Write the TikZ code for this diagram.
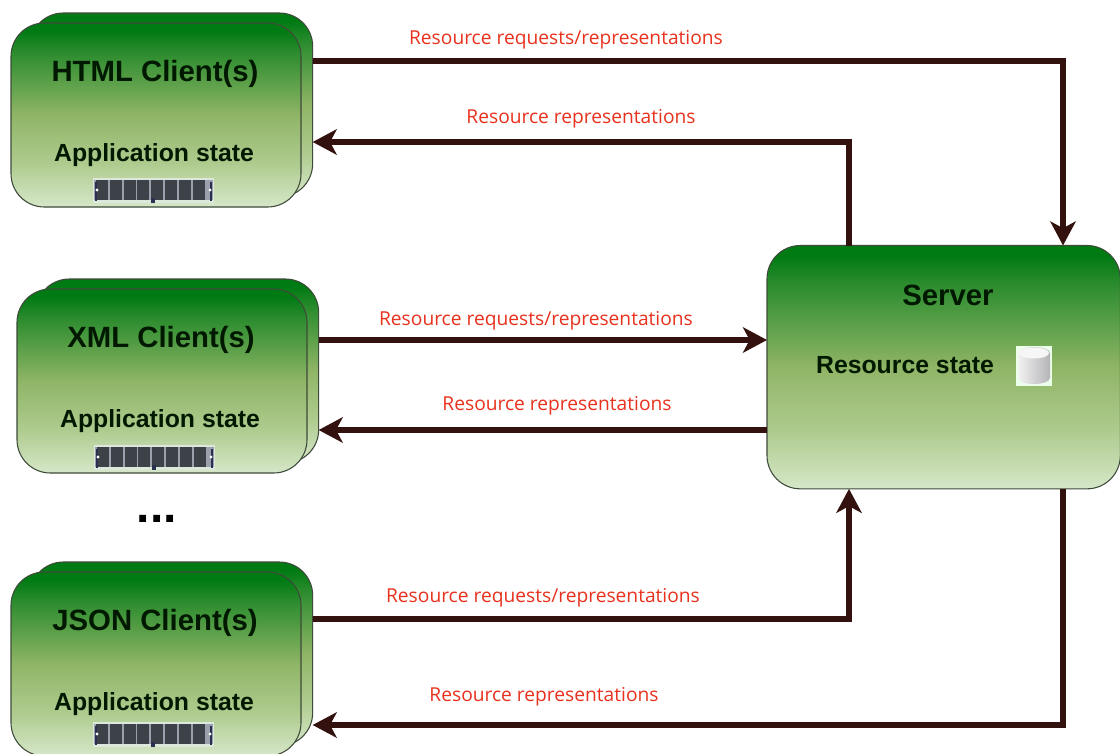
\documentclass[tikz,border=0pt]{standalone}
\usepackage{fontspec}
\setmainfont{Liberation Sans}
\newfontfamily\labelfont{Open Sans}
\usetikzlibrary{arrows.meta}
\definecolor{gA}{HTML}{007A12}
\definecolor{gB}{HTML}{2C8C2E}
\definecolor{gC}{HTML}{8FB566}
\definecolor{gD}{HTML}{AECB8E}
\definecolor{gE}{HTML}{D6E7C8}
\definecolor{wire}{HTML}{33110E}
\definecolor{redtxt}{HTML}{E8321E}
\definecolor{edge}{HTML}{3E4A3A}
\definecolor{chipbg}{HTML}{DDE8DC}
\definecolor{chipblock}{HTML}{3C4248}
\definecolor{chipband}{HTML}{9AA0AC}
\definecolor{chipdark}{HTML}{2A3050}
\definecolor{cylL}{HTML}{F2F2F2}
\definecolor{cylR}{HTML}{B4B4B8}
\pgfdeclareverticalshading{boxshade}{100bp}{
  color(0bp)=(gE); color(25bp)=(gE); color(37bp)=(gD); color(50bp)=(gC);
  color(67bp)=(gB); color(73bp)=(gA); color(100bp)=(gA)}
\pgfdeclarehorizontalshading{cylshade}{100bp}{
  color(0bp)=(cylL); color(25bp)=(cylL); color(75bp)=(cylR); color(100bp)=(cylR)}
\tikzset{
  x=0.75pt, y=-0.75pt,
  greenbox/.style={draw=edge, line width=0.8pt, shading=boxshade, rounded corners=25pt,
    inner sep=0pt, outer sep=0pt, anchor=north west},
  clientbox/.style={greenbox, minimum width=214pt, minimum height=138pt},
  title/.style={font=\bfseries\fontsize{22}{24}\selectfont, text=black!90!green, inner sep=0pt},
  sub/.style={font=\bfseries\fontsize{18.6}{20}\selectfont, text=black!90!green, inner sep=0pt},
  lbl/.style={font=\labelfont\fontsize{14.4}{16}\selectfont, text=redtxt, inner sep=0pt},
  wireline/.style={draw=wire, line width=3.9pt},
  wirearrow/.style={wireline, -{Stealth[length=18pt,width=19pt,inset=5pt]}},
}
% memory module icon: arguments are its top-left corner
\newcommand{\ramchip}[2]{
  \begin{scope}[shift={(#1,#2)}]
    \fill[chipbg] (0,0) rectangle (121,25);
    \fill[chipband] (1,2) rectangle (120,22);
    \foreach \c in {3,17,31,44,58,72,86,100}
      \fill[chipblock] (\c,2) rectangle +(12,20);
    \fill[chipdark] (2,4) rectangle (4,23);
    \fill[chipdark] (117,4) rectangle (119,23);
    \fill[white] (4,12) circle (1.6);
    \fill[white] (117,12) circle (1.6);
    \fill[chipdark] (58,20) rectangle (62,25);
  \end{scope}
}
\begin{document}
\begin{tikzpicture}
\useasboundingbox (0,0) rectangle (1120,753);
\fill[white] (0,0) rectangle (1120,753);

% HTML clients
\node[clientbox, minimum width=212pt] (htmlb) at (30,13) {};
\node[clientbox, minimum width=217.5pt] (htmlf) at (11,23) {};
\node[title] (htmlt) at (155,74) {HTML Client(s)};
\node[sub] (htmls) at (154,155) {Application state};
\ramchip{93}{178}

% XML clients
\node[clientbox, minimum width=212pt] (xmlb) at (36,279) {};
\node[clientbox, minimum width=217.5pt] (xmlf) at (17,289) {};
\node[title] (xmlt) at (161,340) {XML Client(s)};
\node[sub] (xmls) at (160,421) {Application state};
\ramchip{94}{445}

\node[font=\bfseries\fontsize{36}{38}\selectfont, inner sep=0pt] (dots) at (157,519) {...};

% JSON clients
\node[clientbox, minimum width=212pt] (jsonb) at (30,562) {};
\node[clientbox, minimum width=217.5pt] (jsonf) at (11,572) {};
\node[title] (jsont) at (155,623) {JSON Client(s)};
\node[sub] (jsons) at (154,704) {Application state};
\ramchip{93}{722}

% Server
\node[greenbox, minimum width=265pt, minimum height=182.5pt] (server) at (767,245.5) {};
\node[title] (servert) at (948,295) {Server};
\node[sub] (servers) at (905,365) {Resource state};
\fill[white!92!green] (1016,346) rectangle (1052,386);
\path[shading=cylshade]
  (1018,353) -- (1018,378) arc[start angle=180, end angle=360, x radius=16, y radius=-6]
  -- (1050,353) arc[start angle=0, end angle=180, x radius=16, y radius=-6] -- cycle;
\fill[white!93!gray] (1034,353) ellipse (15 and 5.5);

% connectors
\draw[wirearrow] (htmlb.east |- 0,61) -- (1063,61) -- (1063,0 |- server.north);
\draw[wirearrow] (849,0 |- server.north) -- (849,142) -- (htmlb.east |- 0,142);
\draw[wirearrow] (xmlb.east |- 0,340) -- (server.west |- 0,340);
\draw[wirearrow] (server.west |- 0,430) -- (xmlb.east |- 0,430);
\draw[wirearrow] (jsonb.east |- 0,619) -- (849,619) -- (849,0 |- server.south);
\draw[wirearrow] (1063,0 |- server.south) -- (1063,725) -- (jsonb.east |- 0,725);

% labels
\node[lbl] (l1) at (566,40) {Resource requests/representations};
\node[lbl] (l2) at (581,119) {Resource representations};
\node[lbl] (l3) at (536,321) {Resource requests/representations};
\node[lbl] (l4) at (557,406) {Resource representations};
\node[lbl] (l5) at (543,598) {Resource requests/representations};
\node[lbl] (l6) at (544,697) {Resource representations};
\end{tikzpicture}
\end{document}
